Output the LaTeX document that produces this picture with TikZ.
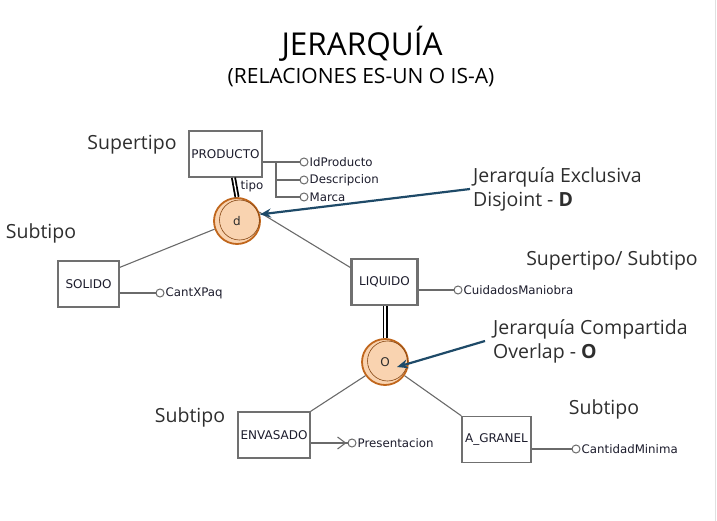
\documentclass[tikz,border=0pt]{standalone}
\usepackage{fontspec}
\setmainfont{Open Sans}
\newfontfamily\erfont{DejaVu Sans}
\usepackage{xcolor}
\definecolor{cText}{HTML}{2E2E2E}
\definecolor{cBox}{HTML}{707070}
\definecolor{cLine}{HTML}{6A6A6A}
\definecolor{cCat}{HTML}{C0661C}
\definecolor{cCatFill}{HTML}{F9D3B0}
\definecolor{cNote}{HTML}{1E4A68}
\definecolor{cSmall}{HTML}{1C1C2C}
\usepackage{tikz}
\usetikzlibrary{positioning,arrows.meta,calc}
\tikzset{
  ent-box/.style={draw=cBox,line width=1.4pt,minimum height=46pt,inner sep=1pt,
    font=\erfont\fontsize{12}{14}\selectfont,text=cSmall},
  ent-strong/.style={line width=2.4pt},
  cat-circle/.style={circle,draw=cCat,line width=1.8pt,fill=cCatFill,minimum size=46pt,
    inner sep=0pt,font=\erfont\fontsize{12}{14}\selectfont,text=cText},
  cat-inner/.style={draw=cCat!70!black,line width=0.6pt},
  attr-dot/.style={circle,draw=cLine,line width=1pt,fill=white,minimum size=8pt,inner sep=0pt},
  attr-text/.style={font=\erfont\fontsize{11.8}{13}\selectfont,text=cSmall,inner sep=1pt},
  link/.style={draw=cLine,line width=1.1pt},
  link-double/.style={draw=black,double=white,double distance=1.4pt,line width=1.8pt},
  arrow-note/.style={-{Stealth[length=11pt,width=9pt]},line width=2.2pt,draw=cNote},
  lbl/.style={font=\fontsize{19.5}{24}\selectfont,text=cText,align=left,inner sep=0pt},
}

\begin{document}
\begin{tikzpicture}[x=1pt,y=-1pt]
  \useasboundingbox (0,0) rectangle (717,521);
  \draw[black!12,line width=0.8pt] (715,0) -- (715,521);
  % titulos
  \node[font=\fontsize{31.5}{34}\selectfont,text=black] (title) at (362,44) {JERARQUÍA};
  \node[font=\fontsize{21}{24}\selectfont,text=black] (subtitle) at (361,78) {(RELACIONES ES-UN O IS-A)};
  % entidades
  \node[ent-box,minimum width=73pt] (prod) at (225.5,154) {PRODUCTO};
  \node[cat-circle] (d) at (237,221) {d};
  \node[ent-box,minimum width=61pt] (sol) at (88.5,284) {SOLIDO};
  \node[ent-box,ent-strong,minimum width=66pt] (liq) at (384.5,282) {LIQUIDO};
  \node[cat-circle] (o) at (385,362) {O};
  \node[ent-box,minimum width=72pt] (env) at (274,435) {ENVASADO};
  \node[ent-box,minimum width=69pt] (agr) at (496.5,439.5) {A\_GRANEL};
  \draw[cat-inner] ($(d.center)+(2.5,-1)$) circle (20pt);
  \draw[cat-inner] ($(o.center)+(2.5,-1)$) circle (20pt);
  % jerarquia
  \draw[link-double] ($(prod.south)+(8,0)$) -- (d.north);
  \node[attr-text] (tipo) at (252,186) {tipo};
  \draw[link] (d.200) -- (sol.28);
  \draw[link] (d.22) -- (liq.157);
  \draw[link-double] (o.north) -- (o.north |- liq.south);
  \draw[link] (o.215) -- (env.north east);
  \draw[link] (o.325) -- (agr.north west);
  % atributos
  \node[attr-dot] (a-idp) at (304,162) {};
  \node[attr-text,right=0pt of a-idp] (t-idp) {IdProducto};
  \node[attr-dot] (a-desc) at (304,180) {};
  \node[attr-text,right=0pt of a-desc] (t-desc) {Descripcion};
  \node[attr-dot] (a-marca) at (304,197) {};
  \node[attr-text,right=0pt of a-marca] (t-marca) {Marca};
  \coordinate (bar) at (276,162);
  \draw[link] (prod.east |- bar) -- (a-idp);
  \draw[link] (bar) |- (a-desc);
  \draw[link] (bar) |- (a-marca);
  \node[attr-dot] (a-cant) at (160,293) {};
  \node[attr-text,right=0pt of a-cant] (t-cant) {CantXPaq};
  \draw[link] (sol.east |- a-cant) -- (a-cant);
  \node[attr-dot] (a-cuid) at (458,290) {};
  \node[attr-text,right=0pt of a-cuid] (t-cuid) {CuidadosManiobra};
  \draw[link] (liq.east |- a-cuid) -- (a-cuid);
  \node[attr-dot] (a-pres) at (352,443) {};
  \node[attr-text,right=0pt of a-pres] (t-pres) {Presentacion};
  \draw[link] (env.east |- a-pres) -- (a-pres);
  \draw[link] ($(a-pres.west)+(-10,-6)$) -- ($(a-pres.west)+(-2,0)$) -- ($(a-pres.west)+(-10,6)$);
  \node[attr-dot] (a-cmin) at (576,449) {};
  \node[attr-text,right=0pt of a-cmin] (t-cmin) {CantidadMinima};
  \draw[link] (agr.east |- a-cmin) -- (a-cmin);
  % rotulos
  \node[lbl] (sup1) at (132,145) {Supertipo};
  \node[lbl] (sub1) at (41,233) {Subtipo};
  \node[lbl] (supsub) at (612,260) {Supertipo/ Subtipo};
  \node[lbl] (sub2) at (190,417) {Subtipo};
  \node[lbl] (sub3) at (604,409) {Subtipo};
  \node[lbl,anchor=west] (note-exc) at (473,189) {Jerarquía Exclusiva\\Disjoint - \textbf{D}};
  \node[lbl,anchor=west] (note-ovl) at (493,341) {Jerarquía Compartida\\Overlap - \textbf{O}};
  \coordinate (o-tip) at ($(o.center)+(12,5)$);
  \draw[arrow-note] ($(note-exc.west)+(-3,0)$) -- (d.16);
  \draw[arrow-note] ($(note-ovl.west)+(-8,0)$) -- (o-tip);
\end{tikzpicture}
\end{document}
